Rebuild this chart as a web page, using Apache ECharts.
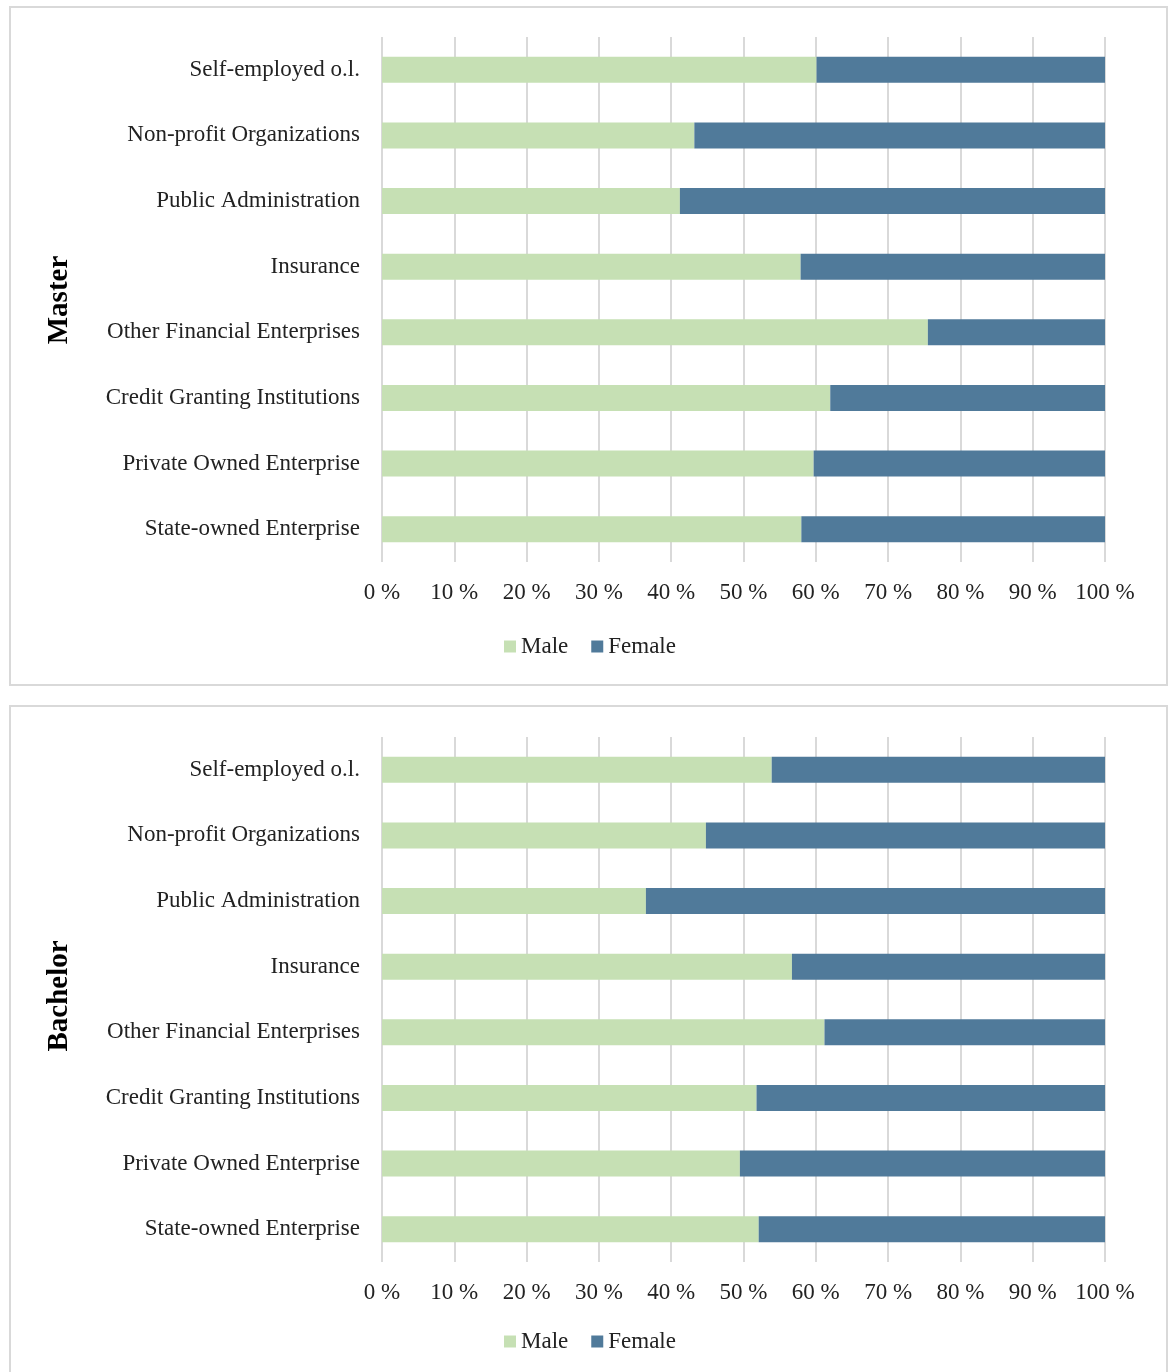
<!DOCTYPE html>
<html>
<head>
<meta charset="utf-8">
<script src="https://cdn.jsdelivr.net/npm/echarts@6/dist/echarts.min.js"></script>
<style>
  html, body { margin: 0; padding: 0; background: #fff; }
  #chart { width: 1172px; height: 1372px; }
</style>
</head>
<body>
<div id="chart"></div>
<script>
var categories = ['Self-employed o.l.', 'Non-profit Organizations', 'Public Administration', 'Insurance',
    'Other Financial Enterprises', 'Credit Granting Institutions', 'Private Owned Enterprise', 'State-owned Enterprise'];

var masterMale = [60.1, 43.2, 41.2, 57.9, 75.5, 62.0, 59.7, 58.0];
var masterFemale = [39.9, 56.8, 58.8, 42.1, 24.5, 38.0, 40.3, 42.0];

var bachelorMale = [53.9, 44.8, 36.5, 56.7, 61.2, 51.8, 49.5, 52.1];
var bachelorFemale = [46.1, 55.2, 63.5, 43.3, 38.8, 48.2, 50.5, 47.9];

var panelNames = ['Master', 'Bachelor'];

var font = "'Liberation Serif', 'DejaVu Serif', serif";
var green = '#c6e0b4';
var blue = '#507a9a';
var gridColor = '#d9d9d9';

var dom = document.getElementById('chart');
var myChart = echarts.init(dom);

function xAxisFor(i) {
    return {
        type: 'value', gridIndex: i, min: 0, max: 100, interval: 10,
        axisLine: { show: false },
        axisTick: { show: false },
        axisLabel: { formatter: '{value} %', fontFamily: font, fontSize: 23, color: '#222', margin: 19 },
        splitLine: { lineStyle: { color: gridColor, width: 2 } }
    };
}

function yAxisFor(i) {
    return {
        type: 'category', gridIndex: i, data: categories, inverse: true,
        axisLine: { show: false },
        axisTick: { show: false },
        axisLabel: { fontFamily: font, fontSize: 23, color: '#222', margin: 22 }
    };
}

function barSeries(name, i, data, color) {
    return {
        name: name, type: 'bar', stack: 'p' + i,
        xAxisIndex: i, yAxisIndex: i,
        barWidth: 26,
        itemStyle: { color: color },
        data: data
    };
}

function legendFor(top) {
    return {
        data: ['Male', 'Female'], left: 499, top: top,
        itemWidth: 12, itemHeight: 12, itemGap: 23,
        icon: 'rect',
        textStyle: { fontFamily: font, fontSize: 23, color: '#222' }
    };
}

option = {
    animation: false,
    backgroundColor: '#fff',
    grid: [
        { left: 382, right: 67, top: 37, height: 525 },
        { left: 382, right: 67, top: 737, height: 525 }
    ],
    xAxis: [xAxisFor(0), xAxisFor(1)],
    yAxis: [yAxisFor(0), yAxisFor(1)],
    legend: [legendFor(630), legendFor(1325)],
    series: [
        barSeries('Male', 0, masterMale, green),
        barSeries('Female', 0, masterFemale, blue),
        barSeries('Male', 1, bachelorMale, green),
        barSeries('Female', 1, bachelorFemale, blue)
    ],
    graphic: [
        { type: 'rect', silent: true, z: -1, shape: { x: 10, y: 7, width: 1157, height: 678 },
          style: { fill: 'none', stroke: gridColor, lineWidth: 2 } },
        { type: 'rect', silent: true, z: -1, shape: { x: 10, y: 706, width: 1157, height: 720 },
          style: { fill: 'none', stroke: gridColor, lineWidth: 2 } },
        { type: 'text', x: 60, y: 300, rotation: Math.PI / 2,
          style: { text: panelNames[0], font: 'bold 29px ' + font, fill: '#000', align: 'center', verticalAlign: 'middle' } },
        { type: 'text', x: 60, y: 996, rotation: Math.PI / 2,
          style: { text: panelNames[1], font: 'bold 29px ' + font, fill: '#000', align: 'center', verticalAlign: 'middle' } }
    ]
};

if (option && typeof option === "object") {
    myChart.setOption(option, true);
}
</script>
</body>
</html>
